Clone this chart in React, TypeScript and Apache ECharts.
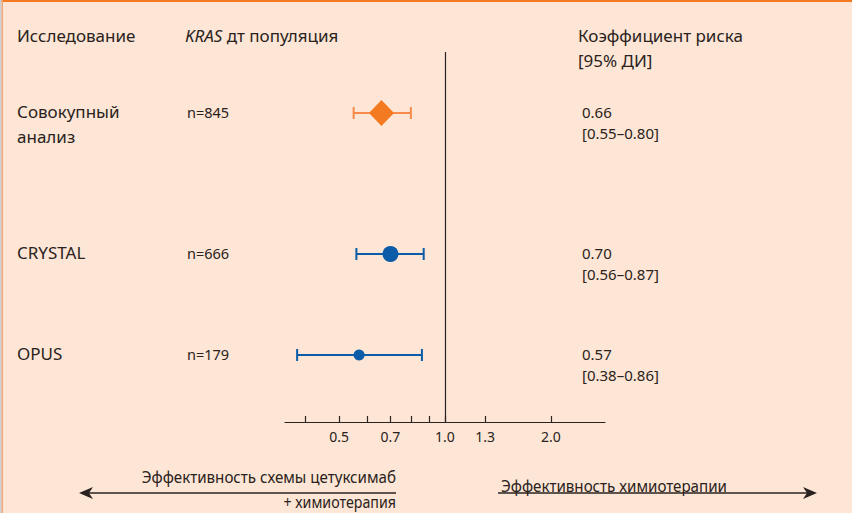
import React, { useEffect, useRef } from "react";
import * as echarts from "echarts";

// Forest plot: hazard ratios with 95% CI, KRAS wild-type population
const studyNames = ["Совокупный\nанализ", "CRYSTAL", "OPUS"];
const sampleSizes = ["n=845", "n=666", "n=179"];
const hazardRatios = [0.66, 0.7, 0.57];
const ciLower = [0.55, 0.56, 0.38];
const ciUpper = [0.8, 0.87, 0.86];
const tickValues = [0.4, 0.5, 0.6, 0.7, 0.8, 0.9, 1.0, 1.3, 2.0];
const tickLabelValues = [0.5, 0.7, 1.0, 1.3, 2.0];

// layout
const W = 852;
const H = 513;
const GRID_TOP = 52;
const GRID_LEFT = 285;
const GRID_RIGHT = 247;
const GRID_HEIGHT = 370;
const ROW_Y = [61, 202, 303];
const X_MIN = 0.351;
const X_MAX = 2.85;

const BG = "#fde6d5";
const INK = "#2a2220";
const ORANGE = "#f47a21";
const ORANGE_LIGHT = "#f68b4c";
const BLUE = "#0b5ca8";
const FONT = "'Noto Sans', 'Open Sans', sans-serif";

const markerColors = [ORANGE, BLUE, BLUE];
const whiskerColors = [ORANGE_LIGHT, BLUE, BLUE];
const markerSymbols = ["diamond", "circle", "circle"];
const markerSizes: any[] = [[25, 26], 16, 11];

export default function App() {
  const ref = useRef<HTMLDivElement>(null);

  useEffect(() => {
    if (!ref.current) return;
    const chart = echarts.init(ref.current, undefined, { renderer: "svg" });

    const rowPx = (i: number) => GRID_TOP + ROW_Y[i];

    const texts: any[] = [];
    const addText = (text: string, x: number, y: number, size: number, extra: any = {}) => {
      texts.push({
        type: "text",
        x,
        y,
        style: {
          text,
          fill: INK,
          font: `${size}px ${FONT}`,
          verticalAlign: "middle",
          ...extra,
        },
      });
    };

    // headers
    addText("Исследование", 17, 35, 17);
    texts.push({
      type: "text",
      x: 185,
      y: 35,
      style: {
        text: "{i|KRAS} дт популяция",
        fill: INK,
        font: `17px ${FONT}`,
        verticalAlign: "middle",
        rich: { i: { fontStyle: "italic", fontSize: 17, fontFamily: FONT, fill: INK } },
      },
    });
    addText("Коэффициент риска", 578, 35, 17);
    addText("[95% ДИ]", 578, 60, 17);

    // per-study rows
    studyNames.forEach((name, i) => {
      const y = rowPx(i);
      const lines = name.split("\n");
      lines.forEach((ln, k) => addText(ln, 17, y - 2 + k * 25, 17));
      addText(sampleSizes[i], 187, y - 1, 14.5);
      addText(hazardRatios[i].toFixed(2), 582, y - 1, 15);
      addText(`[${ciLower[i].toFixed(2)}–${ciUpper[i].toFixed(2)}]`, 582, y + 20, 15);
    });

    // direction arrows below the axis (condensed lettering)
    const arrowY = 493;
    const narrow = (text: string, x: number, y: number, align: string, size = 17) => ({
      type: "text",
      x,
      y,
      scaleX: 0.89,
      style: {
        text,
        fill: INK,
        font: `${size}px ${FONT}`,
        align,
        verticalAlign: "middle",
      },
    });
    texts.push(narrow("Эффективность схемы цетуксимаб", 396, 477, "right"));
    texts.push(narrow("+ химиотерапия", 396, 502, "right", 16));
    texts.push(narrow("Эффективность химиотерапии", 501, 486, "left"));
    texts.push({
      type: "line",
      shape: { x1: 86, y1: arrowY, x2: 396, y2: arrowY },
      style: { stroke: INK, lineWidth: 1.3 },
    });
    texts.push({
      type: "polygon",
      shape: { points: [[79, arrowY], [93, arrowY - 6], [89, arrowY], [93, arrowY + 6]] },
      style: { fill: INK },
    });
    texts.push({
      type: "line",
      shape: { x1: 498, y1: arrowY, x2: 810, y2: arrowY },
      style: { stroke: INK, lineWidth: 1.3 },
    });
    texts.push({
      type: "polygon",
      shape: { points: [[817, arrowY], [803, arrowY - 6], [807, arrowY], [803, arrowY + 6]] },
      style: { fill: INK },
    });

    // frame accents
    const frame: any[] = [
      { type: "rect", shape: { x: 0, y: 0, width: W, height: 2 }, style: { fill: ORANGE }, z: 10 },
      { type: "rect", shape: { x: 0, y: 0, width: 1.5, height: H }, style: { fill: "#c8d0dc" }, z: 10 },
      { type: "rect", shape: { x: 1.5, y: 0, width: 1.5, height: H }, style: { fill: "#f3a877" }, z: 10 },
    ];

    const whiskerData = hazardRatios.map((_, i) => [ciLower[i], ciUpper[i], ROW_Y[i], i]);

    chart.setOption({
      animation: false,
      backgroundColor: BG,
      grid: { left: GRID_LEFT, right: GRID_RIGHT, top: GRID_TOP, height: GRID_HEIGHT },
      xAxis: {
        type: "log",
        logBase: 10,
        min: X_MIN,
        max: X_MAX,
        position: "bottom",
        splitLine: { show: false },
        axisLine: { show: true, onZero: false, lineStyle: { color: INK, width: 1.2 } },
        axisTick: {
          show: true,
          inside: true,
          length: 6,
          customValues: tickValues,
          lineStyle: { color: INK, width: 1.2 },
        },
        axisLabel: {
          customValues: tickLabelValues,
          formatter: (v: number) => Number(v).toFixed(1),
          color: INK,
          fontSize: 14,
          fontFamily: FONT,
          margin: 7,
        },
      },
      yAxis: {
        type: "value",
        min: 0,
        max: GRID_HEIGHT,
        inverse: true,
        show: false,
      },
      graphic: [...frame, ...texts],
      series: [
        {
          type: "custom",
          coordinateSystem: "cartesian2d",
          encode: { x: [0, 1], y: 2 },
          data: whiskerData,
          z: 2,
          renderItem: (params: any, api: any) => {
            const lo = api.coord([api.value(0), api.value(2)]);
            const hi = api.coord([api.value(1), api.value(2)]);
            const idx = api.value(3);
            const color = whiskerColors[idx];
            const cap = 6;
            const style = { stroke: color, lineWidth: 2 };
            return {
              type: "group",
              children: [
                { type: "line", shape: { x1: lo[0], y1: lo[1], x2: hi[0], y2: hi[1] }, style },
                { type: "line", shape: { x1: lo[0], y1: lo[1] - cap, x2: lo[0], y2: lo[1] + cap }, style },
                { type: "line", shape: { x1: hi[0], y1: hi[1] - cap, x2: hi[0], y2: hi[1] + cap }, style },
              ],
            };
          },
        },
        {
          type: "scatter",
          z: 3,
          data: hazardRatios.map((v, i) => ({
            value: [v, ROW_Y[i]],
            symbol: markerSymbols[i],
            symbolSize: markerSizes[i],
            itemStyle: { color: markerColors[i], opacity: 1 },
          })),
          markLine: {
            silent: true,
            symbol: "none",
            label: { show: false },
            lineStyle: { color: INK, width: 1.2, type: "solid" },
            data: [{ xAxis: 1 }],
          },
        },
      ],
    });

    return () => chart.dispose();
  }, []);

  return (
    <div
      ref={ref}
      style={{ position: "fixed", left: 0, top: 0, width: W, height: H }}
    />
  );
}
